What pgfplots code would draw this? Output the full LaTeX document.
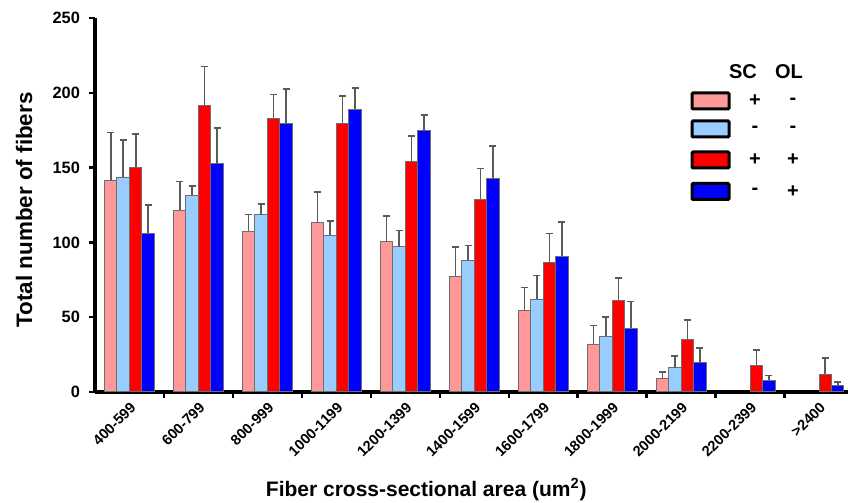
\documentclass[border=0pt]{standalone}
\usepackage{fontspec}
\setmainfont{Liberation Sans}
\usepackage{pgfplots}
\pgfplotsset{compat=1.18}
\definecolor{cpink}{HTML}{FF9999}
\definecolor{clblue}{HTML}{99CCFF}
\definecolor{cred}{HTML}{FF0000}
\definecolor{cblue}{HTML}{0000FF}
\definecolor{cedge}{HTML}{6E6E6E}
\definecolor{cerr}{HTML}{5A5A5A}
\begin{document}
\begin{tikzpicture}
\begin{axis}[
    scale only axis,
    width=376.5pt, height=187pt,
    xmin=-0.5, xmax=10.42,
    ymin=0, ymax=250,
    axis lines=left,
    axis line style={line width=1.6pt, -},
    ytick={0,50,...,250},
    xtick={0,...,10},
    xticklabels={400-599,600-799,800-999,1000-1199,1200-1399,1400-1599,1600-1799,1800-1999,2000-2199,2200-2399,>2400},
    minor xtick={0.5,1.5,...,9.5},
    major x tick style={draw=none},
    minor tick length=3pt,
    major tick length=3pt,
    tick align=outside,
    tick style={line width=1.2pt, black},
    /pgf/number format/assume math mode=true,
    yticklabel style={font=\fontsize{8.2}{10}\selectfont\bfseries, xshift=-1pt},
    xticklabel style={font=\fontsize{7.3}{8}\selectfont\bfseries, rotate=45, anchor=north east, inner sep=1pt},
    xlabel={Fiber cross-sectional area (um\textsuperscript{2})},
    xlabel style={font=\fontsize{10.5}{12}\selectfont\bfseries, at={(rel axis cs:0.44,-0.262)}, anchor=center},
    ylabel={Total number of fibers},
    ylabel style={font=\fontsize{11.2}{13}\selectfont\bfseries, at={(rel axis cs:-0.094,0.487)}, anchor=center, rotate=0},
    ybar, bar width=0.181,
    clip=false,
    error bars/y dir=plus, error bars/y explicit,
    error bars/error bar style={cerr, line width=0.8pt},
    error bars/error mark options={rotate=90, mark size=1.75pt, cerr, line width=0.8pt},
]
\addplot[fill=cpink, draw=cedge, line width=0.5pt, bar shift=-0.2715] coordinates {
  (0,141.5) +- (0,31.9) (1,121.6) +- (0,19.0) (2,107.4) +- (0,11.3) (3,113.4) +- (0,20.3)
  (4,100.4) +- (0,17.4) (5,77.4) +- (0,19.6) (6,54.5) +- (0,15.4) (7,31.9) +- (0,12.5)
  (8,8.7) +- (0,4.7)
};
\addplot[fill=clblue, draw=cedge, line width=0.5pt, bar shift=-0.0905] coordinates {
  (0,143.5) +- (0,25.0) (1,131.5) +- (0,6.2) (2,118.5) +- (0,7.3) (3,104.7) +- (0,9.6)
  (4,97.1) +- (0,10.9) (5,88.2) +- (0,9.8) (6,62.0) +- (0,15.9) (7,37.1) +- (0,13.1)
  (8,16.3) +- (0,7.6)
};
\addplot[fill=cred, draw=cedge, line width=0.5pt, bar shift=0.0905] coordinates {
  (0,150.0) +- (0,22.4) (1,191.7) +- (0,25.8) (2,183.0) +- (0,15.8) (3,179.6) +- (0,18.1)
  (4,154.4) +- (0,16.6) (5,129.0) +- (0,20.5) (6,86.3) +- (0,19.7) (7,61.2) +- (0,14.9)
  (8,35.1) +- (0,12.9) (9,17.9) +- (0,10.2) (10,12.0) +- (0,10.8)
};
\addplot[fill=cblue, draw=cedge, line width=0.5pt, bar shift=0.2715] coordinates {
  (0,106.0) +- (0,18.8) (1,152.6) +- (0,23.7) (2,179.2) +- (0,23.2) (3,189.0) +- (0,14.3)
  (4,174.5) +- (0,10.5) (5,142.8) +- (0,21.7) (6,90.6) +- (0,23.0) (7,42.6) +- (0,17.9)
  (8,19.4) +- (0,10.1) (9,7.8) +- (0,3.2) (10,4.3) +- (0,2.2)
};
\coordinate (o) at (rel axis cs:0,0);
\end{axis}
% legend drawn by hand, positions relative to the axis origin
\begin{scope}[shift={(o)}, every node/.style={font=\fontsize{10}{12}\selectfont\bfseries}]
  \node at (324pt,160pt) {SC};
  \node at (347pt,160pt) {OL};
  \foreach \c/\y/\a/\b in {cpink/145.5/+/-, clblue/131.5/-/-, cred/116/+/+, cblue/100.25/-/+} {
    \draw[fill=\c, line width=1.5pt, rounded corners=0.5pt] (298.5pt,\y pt-4pt) rectangle ++(18.5pt,8pt);
    \node at (330pt,\y pt) {\a};
    \node at (349pt,\y pt) {\b};
  }
\end{scope}
\pgfresetboundingbox
\path (o) ++(-47.5pt,-55.5pt) rectangle ++(424pt,251.5pt);
\end{tikzpicture}
\end{document}
